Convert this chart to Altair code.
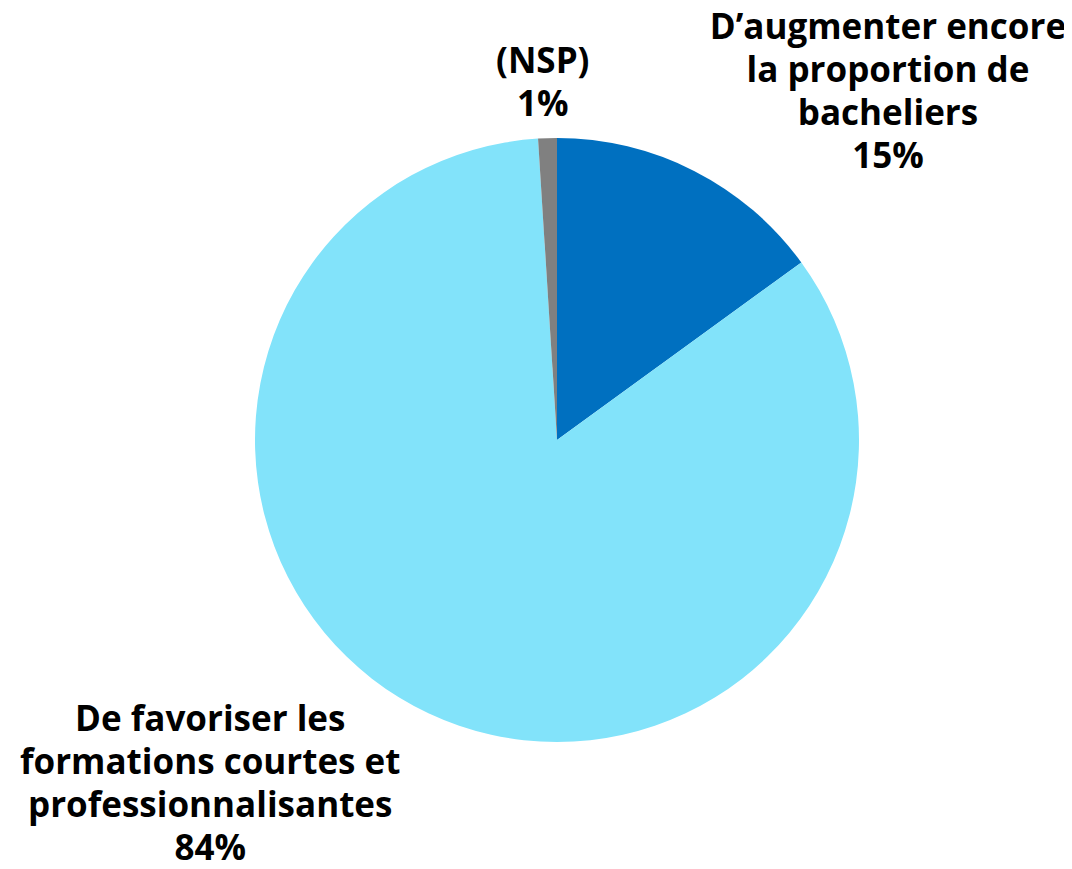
import altair as alt
import pandas as pd

categories = [
    "D’augmenter encore la proportion de bacheliers",
    "De favoriser les formations courtes et professionnalisantes",
    "(NSP)",
]
label_lines = [
    ["D’augmenter encore", "la proportion de", "bacheliers"],
    ["De favoriser les", "formations courtes et", "professionnalisantes"],
    ["(NSP)"],
]
values = [15, 84, 1]
colors = ["#0070C0", "#82E3FA", "#808080"]

df = pd.DataFrame({
    "categorie": categories,
    "valeur": values,
    "ordre": [1, 2, 3],
    "etiquette": ["\n".join(l + [f"{v}%"]) for l, v in zip(label_lines, values)],
})

CX, CY = 549, 432
R = 302
FONT = "Open Sans"
FS = 35
LH = 43

base = alt.Chart(df)

arcs = base.mark_arc(outerRadius=R, stroke=None).encode(
    theta=alt.Theta("valeur:Q", stack=True, scale=alt.Scale(domain=[0, 100])),
    color=alt.Color("categorie:N", scale=alt.Scale(domain=categories, range=colors), legend=None),
    order=alt.Order("ordre:Q"),
    x=alt.value(CX),
    y=alt.value(CY),
)

def label(k, radius, dx, dy):
    return base.transform_window(
        cum="sum(valeur)", sort=[{"field": "ordre"}]
    ).transform_calculate(
        mid="datum.cum - datum.valeur / 2"
    ).transform_filter(
        f"datum.ordre == {k}"
    ).mark_text(
        radius=radius, dx=dx, dy=dy, font=FONT, fontSize=FS, fontWeight="bold",
        lineBreak="\n", lineHeight=LH, align="center", baseline="middle", color="#000000",
    ).encode(
        theta=alt.Theta("mid:Q", stack=None, scale=alt.Scale(domain=[0, 100])),
        text="etiquette:N",
        x=alt.value(CX),
        y=alt.value(CY),
    )

chart = alt.layer(
    arcs,
    label(1, 392, 153, -63),
    label(2, 387, -182, -70),
    label(3, 358, -3, -20),
).properties(
    width=1056, height=853, padding=0,
    autosize=alt.AutoSizeParams(type="none"),
).configure_view(stroke=None)

chart.save("out.html", embed_options={"renderer": "svg", "actions": False})
